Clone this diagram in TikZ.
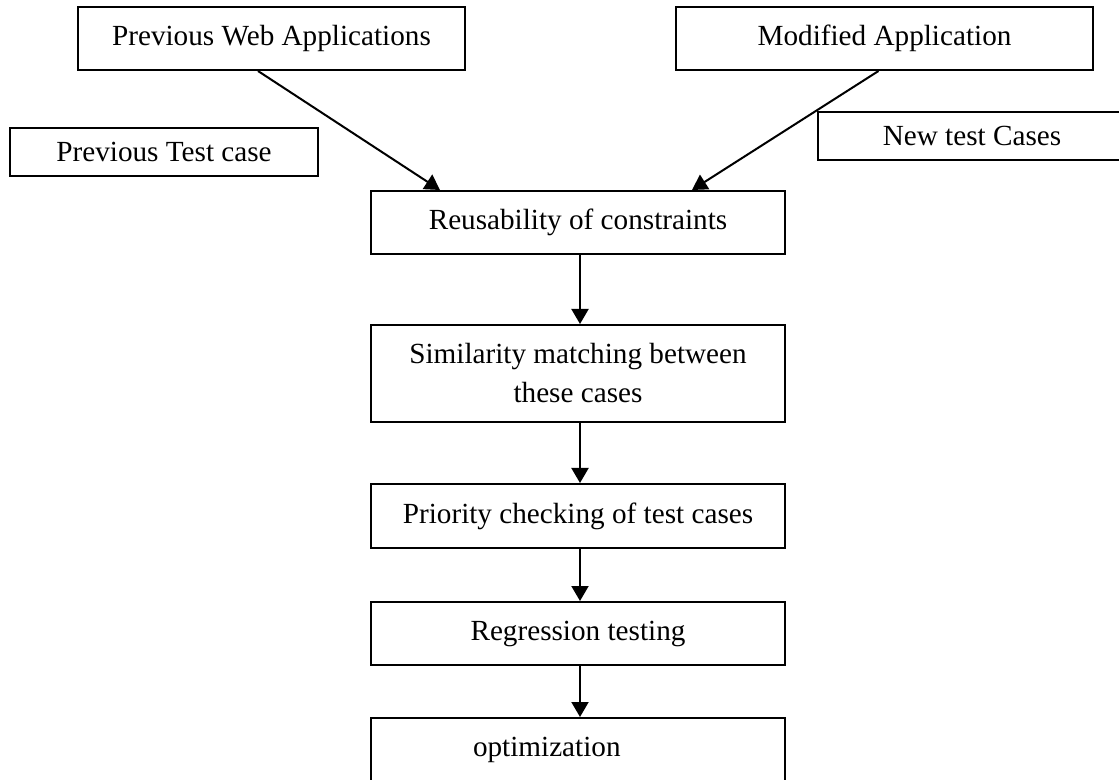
\documentclass[tikz,border=0pt]{standalone}
\usepackage{fontspec}
\setmainfont{Liberation Serif}
\usetikzlibrary{arrows.meta}

\begin{document}
\begin{tikzpicture}[
        x=0.5pt, y=-0.5pt,
        box/.style={draw, line width=1pt, inner sep=0pt, minimum height=31.5pt, minimum width=207pt, align=center, font=\fontsize{14.6}{19.5}\selectfont},
        label box/.style={box, minimum height=24pt, minimum width=154pt},
        flow/.style={draw, line width=1pt, -{Triangle[length=7.5pt,width=8.5pt]}}
        ]
    \clip (0,0) rectangle (1119,780);
    % inputs
    \node[box, minimum width=193.5pt] (prevweb) at (271.5,38.5) {Previous Web Applications};
    \node[box, minimum width=208.5pt] (modapp) at (884.5,38.5) {Modified Application};
    \node[label box] (prevtest) at (164,152) {Previous Test case};
    \node[label box] (newtest) at (972,136) {New test Cases};
    % main flow
    \node[box] (reuse) at (578,222.5) {Reusability of constraints};
    \node[box, minimum height=48.5pt] (simil) at (578,373.5) {Similarity matching between\\these cases};
    \node[box, minimum height=32pt] (prio) at (578,516) {Priority checking of test cases};
    \node[box] (regr) at (578,633.5) {Regression testing};
    \node[box, text width=105pt, inner xsep=51pt, align=left] (optim) at (578,749.5) {optimization};

    \draw[flow] ([xshift=-6.75pt]prevweb.south) -- ([xshift=-69pt]reuse.north);
    \draw[flow] ([xshift=-3pt]modapp.south) -- ([xshift=57pt]reuse.north);
    \draw[flow] ([xshift=1pt]reuse.south) -- ([xshift=1pt]simil.north);
    \draw[flow] ([xshift=1pt]simil.south) -- ([xshift=1pt]prio.north);
    \draw[flow] ([xshift=1pt]prio.south) -- ([xshift=1pt]regr.north);
    \draw[flow] ([xshift=1pt]regr.south) -- ([xshift=1pt]optim.north);
\end{tikzpicture}
\end{document}
